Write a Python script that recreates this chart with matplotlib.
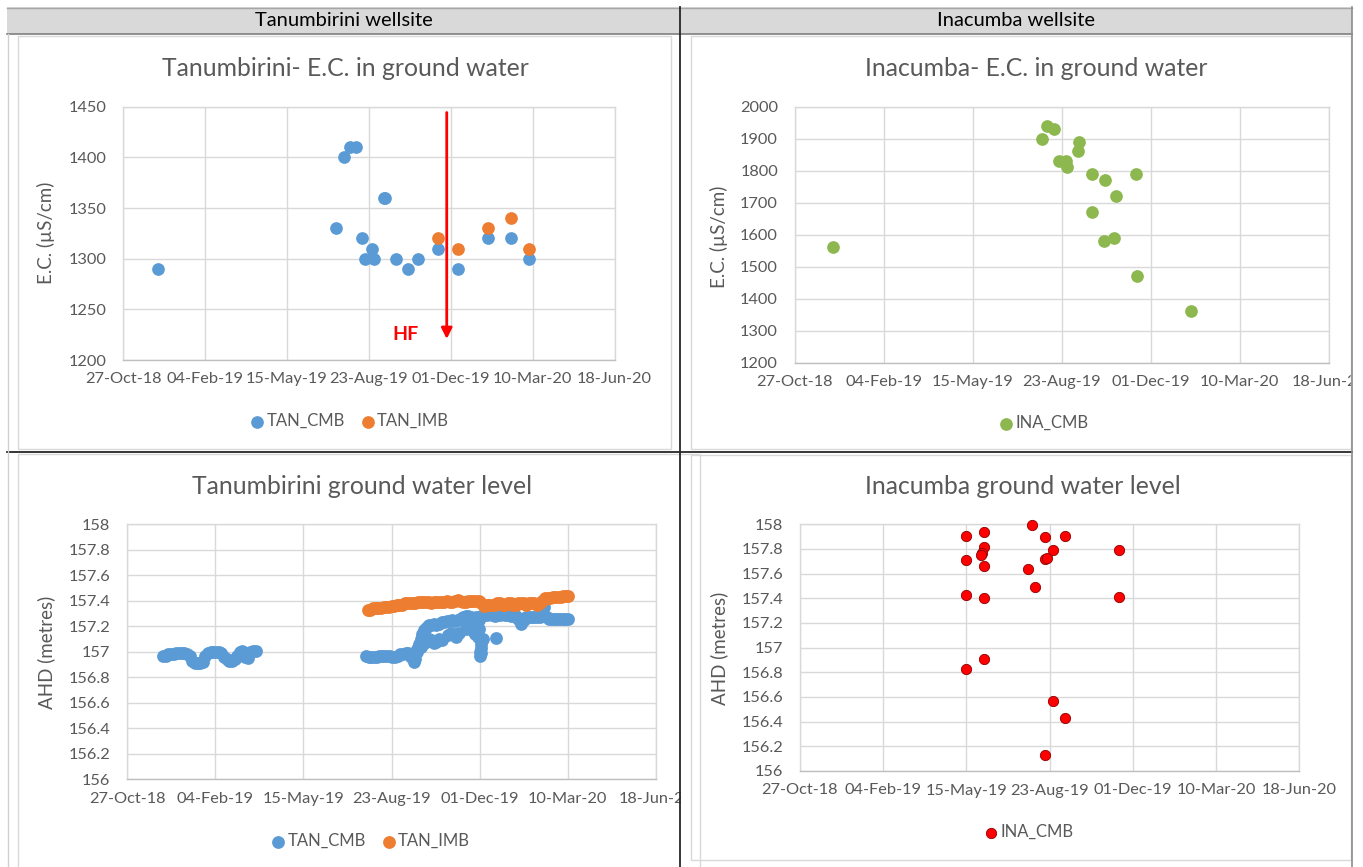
import datetime as dt

import matplotlib
matplotlib.use("Agg")
import matplotlib.pyplot as plt
import matplotlib.dates as mdates
from matplotlib.lines import Line2D
from matplotlib.patches import Rectangle
from matplotlib.ticker import FuncFormatter, MultipleLocator

plt.rcParams["font.family"] = ["Lato", "DejaVu Sans"]

W, H = 1363, 867
BASE = dt.date(2018, 10, 27)

# ---- E.C. readings (top row) ----
tan_ec_cmb_dates = ["2018-12-08", "2019-07-14", "2019-07-24", "2019-07-31", "2019-08-07",
                    "2019-08-14", "2019-08-18", "2019-08-27", "2019-08-29", "2019-09-10",
                    "2019-09-12", "2019-09-25", "2019-10-10", "2019-10-22", "2019-11-15",
                    "2019-12-10", "2020-01-15", "2020-02-12", "2020-03-05"]
tan_ec_cmb = [1290, 1330, 1400, 1410, 1410, 1320, 1300, 1310, 1300, 1360,
              1360, 1300, 1290, 1300, 1310, 1290, 1320, 1320, 1300]
tan_ec_imb_dates = ["2019-11-15", "2019-12-10", "2020-01-15", "2020-02-12", "2020-03-05"]
tan_ec_imb = [1320, 1310, 1330, 1340, 1310]
hf_date = "2019-11-26"

ina_ec_dates = ["2018-12-09", "2019-08-01", "2019-08-06", "2019-08-14", "2019-08-20",
                "2019-08-28", "2019-08-29", "2019-09-11", "2019-09-10", "2019-09-26",
                "2019-09-26", "2019-10-10", "2019-10-09", "2019-10-21", "2019-10-23",
                "2019-11-14", "2019-11-16", "2020-01-15"]
ina_ec = [1560, 1900, 1940, 1930, 1830, 1830, 1810, 1890, 1860, 1790,
          1670, 1770, 1580, 1590, 1720, 1790, 1470, 1360]

# ---- water levels (bottom row); logger days counted from 27-Oct-18 ----
tan_lvl_cmb_day = [41, 44, 47, 50, 53, 56, 59, 62, 65, 68, 71, 74, 77, 80, 83, 86, 89, 92,
                   95, 98, 101, 104, 107, 110, 113, 116, 119, 122, 125, 128, 131, 134, 137,
                   140, 143, 146,
                   271, 274, 277, 280, 283, 286, 289, 292, 295, 298, 301, 304, 307, 310, 313,
                   316, 319, 322, 325, 327, 329, 331, 333, 335, 337, 339, 341, 343, 345, 348,
                   351, 354, 357, 360, 363, 366, 369, 372, 375, 378, 381, 384, 387, 390, 393,
                   396, 399, 402, 405, 408, 411, 414, 417, 420, 423, 426, 429, 432, 435, 438,
                   441, 444, 447, 450, 453, 456, 459, 462, 465, 468, 471, 473, 476, 479, 482,
                   485, 488, 491, 494, 497, 500,
                   329, 333, 336, 339, 342, 345, 348, 351, 354, 357, 364, 367, 370, 373, 376,
                   384, 388, 392, 395, 398, 399, 400, 400, 401, 402, 402, 404, 419]
tan_lvl_cmb = [156.97, 156.97, 156.98, 156.98, 156.98, 156.99, 156.99, 156.99, 156.99, 156.98,
               156.97, 156.93, 156.91, 156.91, 156.91, 156.92, 156.97, 156.99, 157.00, 157.00,
               157.00, 157.00, 156.99, 156.96, 156.94, 156.93, 156.93, 156.94, 156.97, 157.00,
               157.01, 156.96, 156.95, 157.00, 157.01, 157.01,
               156.97, 156.96, 156.96, 156.96, 156.96, 156.97, 156.97, 156.97, 156.97, 156.97,
               156.96, 156.96, 156.97, 156.98, 156.98, 156.99, 156.99, 156.96, 156.92, 156.94,
               157.02, 157.06, 157.10, 157.14, 157.17, 157.19, 157.20, 157.21, 157.21, 157.22,
               157.21, 157.22, 157.23, 157.23, 157.24, 157.24, 157.25, 157.24, 157.25, 157.26,
               157.27, 157.28, 157.28, 157.27, 157.26, 157.27, 157.25, 157.28, 157.29, 157.29,
               157.30, 157.29, 157.28, 157.29, 157.29, 157.30, 157.29, 157.29, 157.28, 157.29,
               157.28, 157.26, 157.22, 157.25, 157.27, 157.27, 157.27, 157.27, 157.27, 157.27,
               157.28, 157.35, 157.27, 157.26, 157.26, 157.26, 157.26, 157.26, 157.26, 157.26,
               157.26,
               157.00, 157.04, 157.06, 157.08, 157.10, 157.09, 157.07, 157.08, 157.10, 157.09,
               157.13, 157.15, 157.14, 157.12, 157.15, 157.18, 157.20, 157.16, 157.14, 157.12,
               157.18, 156.97, 157.00, 157.03, 157.06, 156.99, 157.10, 157.11]
tan_lvl_imb_day = [273, 276, 279, 282, 285, 288, 291, 294, 297, 300, 303, 306, 309, 312, 315,
                   318, 321, 324, 327, 330, 333, 336, 339, 342, 345, 348, 351, 354, 357, 360,
                   363, 366, 369, 372, 375, 378, 381, 384, 387, 390, 393, 396, 399, 402, 405,
                   408, 411, 414, 417, 420, 423, 426, 429, 432, 435, 438, 441, 444, 447, 450,
                   453, 456, 459, 462, 465, 468, 471, 474, 477, 480, 483, 486, 489, 492, 495,
                   498, 500]
tan_lvl_imb = [157.33, 157.33, 157.34, 157.34, 157.34, 157.34, 157.35, 157.35, 157.35, 157.36,
               157.36, 157.37, 157.37, 157.37, 157.38, 157.38, 157.38, 157.38, 157.38, 157.39,
               157.39, 157.39, 157.39, 157.39, 157.38, 157.39, 157.39, 157.39, 157.39, 157.39,
               157.40, 157.39, 157.39, 157.40, 157.41, 157.40, 157.39, 157.39, 157.40, 157.40,
               157.40, 157.40, 157.40, 157.38, 157.36, 157.37, 157.37, 157.37, 157.37, 157.38,
               157.38, 157.37, 157.37, 157.38, 157.38, 157.37, 157.37, 157.38, 157.38, 157.38,
               157.37, 157.38, 157.38, 157.38, 157.37, 157.38, 157.40, 157.42, 157.42, 157.42,
               157.43, 157.43, 157.43, 157.43, 157.44, 157.44, 157.44]

ina_lvl_dates = ["2019-05-14", "2019-05-14", "2019-05-14", "2019-05-14",
                 "2019-06-05", "2019-06-05", "2019-06-05", "2019-06-05", "2019-06-05",
                 "2019-06-03", "2019-06-02", "2019-08-02", "2019-07-28", "2019-08-05",
                 "2019-08-17", "2019-08-17", "2019-08-20", "2019-08-27", "2019-08-27",
                 "2019-09-10", "2019-09-11", "2019-08-18", "2019-11-14", "2019-11-14"]
ina_lvl = [157.905, 157.71, 157.43, 156.83,
           157.935, 157.82, 157.66, 157.405, 156.91,
           157.77, 157.755, 157.995, 157.64, 157.49,
           157.90, 157.72, 157.73, 157.79, 156.57,
           157.905, 156.43, 156.13, 157.79, 157.41]

BLUE, ORANGE, GREEN, RED = "#5B9BD5", "#ED7D31", "#8CB84F", "#FF0000"
GRID, TXT = "#D9D9D9", "#595959"


def to_dates(strings):
    return [dt.datetime.strptime(s, "%Y-%m-%d") for s in strings]


def from_days(days):
    return [BASE + dt.timedelta(days=d) for d in days]


def px_box(x0, y0, x1, y1):
    return [x0 / W, 1 - y1 / H, (x1 - x0) / W, (y1 - y0) / H]


def style_axes(ax, ylim, ystep, ylabel):
    ax.set_xlim(BASE, BASE + dt.timedelta(days=600))
    ax.set_xticks([BASE + dt.timedelta(days=100 * i) for i in range(7)])
    ax.xaxis.set_major_formatter(mdates.DateFormatter("%d-%b-%y"))
    ax.set_ylim(*ylim)
    ax.yaxis.set_major_locator(MultipleLocator(ystep))
    ax.yaxis.set_major_formatter(FuncFormatter(lambda v, p: f"{round(v, 4):g}"))
    ax.grid(True, color=GRID, lw=1)
    ax.set_axisbelow(True)
    for sp in ax.spines.values():
        sp.set_color(GRID)
        sp.set_linewidth(1)
    ax.spines["bottom"].set_color("#BFBFBF")
    ax.tick_params(length=0, labelsize=11.8, colors=TXT)
    ax.tick_params(axis="y", pad=12)
    ax.tick_params(axis="x", pad=9)
    ax.set_ylabel(ylabel, fontsize=13.5, color=TXT)


fig = plt.figure(figsize=(W / 100, H / 100), dpi=100)


def fig_line(xs, ys, color, lw=1.0, z=5):
    fig.add_artist(Line2D([x / W for x in xs], [1 - y / H for y in ys],
                          color=color, lw=lw, zorder=z, transform=fig.transFigure))


def fig_rect(x0, y0, x1, y1, fc="none", ec="none", lw=1.0, z=1):
    fig.add_artist(Rectangle((x0 / W, 1 - y1 / H), (x1 - x0) / W, (y1 - y0) / H,
                             facecolor=fc, edgecolor=ec, lw=lw, zorder=z,
                             transform=fig.transFigure))


# mask tick labels that spill over the table cells
fig_rect(681, 785, 698, 812, fc="white", z=6)
fig_rect(1352, 365, W, 395, fc="white", z=6)

# chart-area frames
fig_rect(17.5, 36, 671, 449, ec=GRID, z=6.5)
fig_rect(690.5, 36, 1351, 449, ec=GRID, z=6.5)
fig_rect(17.5, 454, 700, 880, ec=GRID, z=6.5)
fig_rect(690.5, 455, 1351, 860, ec=GRID, z=6.5)

ms = 66

# top-left: Tanumbirini E.C.
ax1 = fig.add_axes(px_box(123.3, 106.7, 614.6, 360))
ax1.scatter(to_dates(tan_ec_cmb_dates), tan_ec_cmb, s=ms, color=BLUE, label="TAN_CMB",
            clip_on=False, zorder=3)
ax1.scatter(to_dates(tan_ec_imb_dates), tan_ec_imb, s=ms, color=ORANGE, label="TAN_IMB",
            clip_on=False, zorder=3)
hf = to_dates([hf_date])[0]
ax1.annotate("", xy=(hf, 1218), xytext=(hf, 1447),
             arrowprops=dict(arrowstyle="-|>", color="red", lw=2, mutation_scale=16))
ax1.text(hf - dt.timedelta(days=50), 1225, "HF", color="red", fontsize=14,
         fontweight="bold", ha="center", va="center")
style_axes(ax1, (1200, 1450), 50, "E.C. (µS/cm)")

# top-right: Inacumba E.C.
ax2 = fig.add_axes(px_box(794.7, 106.7, 1328.9, 362.7))
ax2.scatter(to_dates(ina_ec_dates), ina_ec, s=ms, color=GREEN, label="INA_CMB",
            clip_on=False, zorder=3)
style_axes(ax2, (1200, 2000), 100, "E.C. (µS/cm)")

# bottom-left: Tanumbirini levels
ax3 = fig.add_axes(px_box(127, 524.3, 656, 779.3))
ax3.scatter(from_days(tan_lvl_cmb_day), tan_lvl_cmb, s=85, color=BLUE, label="TAN_CMB",
            clip_on=False, zorder=3, lw=0)
ax3.scatter(from_days(tan_lvl_imb_day), tan_lvl_imb, s=85, color=ORANGE, label="TAN_IMB",
            clip_on=False, zorder=3, lw=0)
style_axes(ax3, (156, 158), 0.2, "AHD (metres)")

# bottom-right: Inacumba levels
ax4 = fig.add_axes(px_box(799.8, 524.3, 1299.4, 771))
ax4.scatter(to_dates(ina_lvl_dates), ina_lvl, s=55, color=RED, edgecolor="#8B0000",
            lw=0.6, label="INA_CMB", clip_on=False, zorder=3)
style_axes(ax4, (156, 158), 0.2, "AHD (metres)")

# titles, y-label positions and legends, placed in pixel terms
titles = [(345, 69, "Tanumbirini- E.C. in ground water"),
          (1036, 69, "Inacumba- E.C. in ground water"),
          (362, 486, "Tanumbirini ground water level"),
          (1023, 486, "Inacumba ground water level")]
for x, y, t in titles:
    fig.text(x / W, 1 - y / H, t, fontsize=17.8, color=TXT, ha="center", va="center")

for ax, (x, y) in zip([ax1, ax2, ax3, ax4], [(55, 233), (728, 237), (55, 652), (728, 648)]):
    bb = ax.get_position()
    ax.yaxis.set_label_coords((x / W - bb.x0) / bb.width, (1 - y / H - bb.y0) / bb.height)

for ax, (x, y) in zip([ax1, ax2, ax3, ax4], [(349, 421), (1043, 423), (370, 841), (1028, 832)]):
    fig.legend(*ax.get_legend_handles_labels(), loc="center",
               bbox_to_anchor=(x / W, 1 - y / H), ncol=2, frameon=False,
               fontsize=12, labelcolor=TXT, handletextpad=0.05, handlelength=1.0,
               columnspacing=0.9, markerscale=1.0)

# table: header row and cell borders
fig_rect(7, 7, 1352, 34, fc="#D9D9D9", z=7)
fig_line([7, 1352], [7.5, 7.5], "#A6A6A6", z=8)
fig_line([7, 1352], [34, 34], "#7F7F7F", lw=1.2, z=8)
fig.text(344 / W, 1 - 21 / H, "Tanumbirini wellsite", fontsize=14.5, color="black",
         ha="center", va="center", zorder=9)
fig.text(1016 / W, 1 - 21 / H, "Inacumba wellsite", fontsize=14.5, color="black",
         ha="center", va="center", zorder=9)
fig_line([680.3, 680.3], [7, H], "#262626", lw=1.3, z=8)
fig_line([7, 1352], [451.7, 451.7], "#262626", lw=1.3, z=8)
fig_line([1352, 1352], [7, H], "#8C8C8C", lw=1.2, z=8)
fig_line([7.5, 7.5], [34, H], "#D0D0D0", lw=1.0, z=8)

fig.savefig("out.png", dpi=100)
